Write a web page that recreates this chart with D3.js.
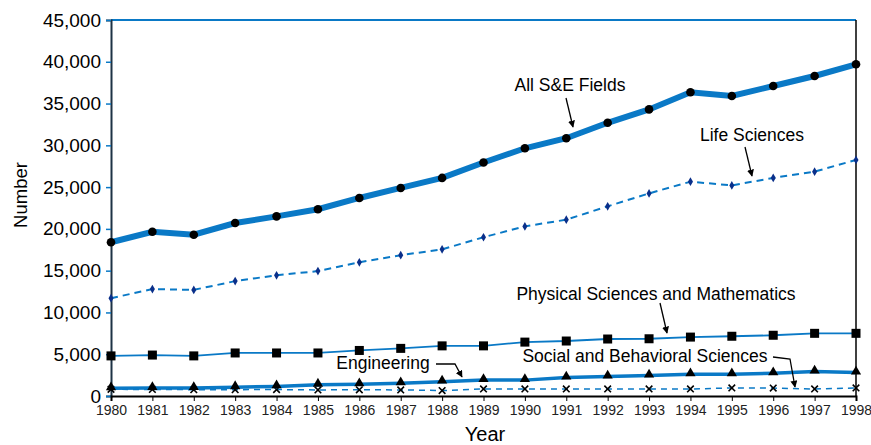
<!DOCTYPE html>
<html>
<head>
<meta charset="utf-8">
<script src="https://cdn.jsdelivr.net/npm/d3@7"></script>
<style>
  body { margin: 0; background: #fff; }
  text { font-family: "Liberation Sans", Arial, sans-serif; }
  .yr text { font-family: "Liberation Sans Narrow", "Arial Narrow", "Liberation Sans", sans-serif; }
</style>
</head>
<body>
<div id="chart-area"></div>
<script>

// Data
var years = d3.range(1980, 1999);
var allSE    = [18400, 19650, 19300, 20700, 21500, 22350, 23700, 24900, 26100, 27950, 29650, 30850, 32700, 34300, 36350, 35900, 37100, 38300, 39700];
var lifeSci  = [11700, 12800, 12700, 13750, 14450, 14950, 16000, 16850, 17550, 19000, 20300, 21100, 22700, 24250, 25650, 25200, 26100, 26850, 28250];
var physMath = [4800, 4900, 4800, 5150, 5150, 5150, 5450, 5700, 6000, 6000, 6450, 6580, 6820, 6850, 7050, 7150, 7270, 7500, 7500];
var engin    = [920, 950, 950, 1050, 1150, 1350, 1400, 1520, 1720, 1900, 1900, 2200, 2320, 2450, 2600, 2600, 2720, 2920, 2800];
var socBeh   = [800, 780, 760, 760, 770, 730, 740, 730, 650, 840, 840, 840, 840, 840, 840, 960, 950, 840, 960];
var yTicks = d3.range(0, 45001, 5000);

var blue = "#0a79c6";

var width = 871, height = 445;
var svg = d3.select("#chart-area").append("svg")
  .attr("width", width)
  .attr("height", height);

var x = d3.scaleLinear().domain([1980, 1998]).range([111, 856]);
var y = d3.scaleLinear().domain([0, 45000]).range([396, 20]);

// top border (blue) and right border (black)
svg.append("line")
  .attr("x1", x(1980)).attr("x2", x(1998))
  .attr("y1", y(45000)).attr("y2", y(45000))
  .attr("stroke", blue).attr("stroke-width", 2);
svg.append("line")
  .attr("x1", x(1998)).attr("x2", x(1998))
  .attr("y1", y(45000)).attr("y2", y(0))
  .attr("stroke", "#000").attr("stroke-width", 1.5);

// y axis
var yAxis = d3.axisLeft(y).tickValues(yTicks).tickSize(5).tickPadding(5)
  .tickFormat(d3.format(","));
var gy = svg.append("g").attr("transform", "translate(" + x(1980) + ",0)").call(yAxis);
gy.select(".domain").attr("stroke", "#1d3245").attr("stroke-width", 2);
gy.selectAll(".tick line").attr("stroke", blue).attr("stroke-width", 1.5);
gy.selectAll(".tick text").attr("font-size", 19).attr("fill", "#000")
  .style("font-family", "'Liberation Sans', Arial, sans-serif");

// x axis
var xAxis = d3.axisBottom(x).tickValues(years).tickSize(5).tickPadding(4)
  .tickFormat(d3.format("d"));
var gx = svg.append("g").attr("class", "yr").attr("transform", "translate(0," + y(0) + ")").call(xAxis);
gx.select(".domain").attr("stroke", "#000").attr("stroke-width", 2);
gx.selectAll(".tick line").attr("stroke", "#000");
gx.selectAll(".tick text").attr("font-size", 14).attr("fill", "#222");

// axis titles
svg.append("text").attr("x", 485).attr("y", 441).attr("text-anchor", "middle")
  .attr("font-size", 20).text("Year");
svg.append("text").attr("transform", "translate(27,195) rotate(-90)")
  .attr("text-anchor", "middle").attr("font-size", 18.5).text("Number");

function series(vals) {
  return vals.map(function(v, i) { return {year: years[i], value: v}; });
}
var line = d3.line().x(function(d) { return x(d.year); }).y(function(d) { return y(d.value); });

// Social and Behavioral
svg.append("path").datum(series(socBeh)).attr("d", line)
  .attr("fill", "none").attr("stroke", blue).attr("stroke-width", 1.5)
  .attr("stroke-dasharray", "6,5");
svg.selectAll(".xmark").data(series(socBeh)).enter().append("path")
  .attr("class", "xmark")
  .attr("d", d3.symbol().type(d3.symbolX).size(30))
  .attr("transform", function(d) { return "translate(" + x(d.year) + "," + y(d.value) + ")"; })
  .attr("stroke", "#000").attr("stroke-width", 1.6).attr("fill", "none");

// Engineering
svg.append("path").datum(series(engin)).attr("d", line)
  .attr("fill", "none").attr("stroke", blue).attr("stroke-width", 3.5);
svg.selectAll(".tri").data(series(engin)).enter().append("path")
  .attr("class", "tri")
  .attr("d", d3.symbol().type(d3.symbolTriangle).size(45))
  .attr("transform", function(d) { return "translate(" + x(d.year) + "," + (y(d.value) - 1) + ")"; })
  .attr("fill", "#000");

// Physical Sciences and Mathematics
svg.append("path").datum(series(physMath)).attr("d", line)
  .attr("fill", "none").attr("stroke", blue).attr("stroke-width", 1.8);
svg.selectAll(".sq").data(series(physMath)).enter().append("rect")
  .attr("class", "sq")
  .attr("x", function(d) { return x(d.year) - 4.5; })
  .attr("y", function(d) { return y(d.value) - 4.5; })
  .attr("width", 9).attr("height", 9).attr("fill", "#000");

// Life Sciences
svg.append("path").datum(series(lifeSci)).attr("d", line)
  .attr("fill", "none").attr("stroke", blue).attr("stroke-width", 2)
  .attr("stroke-dasharray", "7,5");
svg.selectAll(".dia").data(series(lifeSci)).enter().append("path")
  .attr("class", "dia")
  .attr("d", d3.symbol().type(d3.symbolDiamond).size(22))
  .attr("transform", function(d) { return "translate(" + x(d.year) + "," + y(d.value) + ")"; })
  .attr("fill", "#0a2f8a");

// All S&E Fields
svg.append("path").datum(series(allSE)).attr("d", line)
  .attr("fill", "none").attr("stroke", blue).attr("stroke-width", 6);
svg.selectAll(".dot").data(series(allSE)).enter().append("circle")
  .attr("class", "dot")
  .attr("cx", function(d) { return x(d.year); })
  .attr("cy", function(d) { return y(d.value); })
  .attr("r", 4.3).attr("fill", "#000");

// annotations
svg.append("defs").append("marker")
  .attr("id", "arr").attr("viewBox", "0 0 10 10").attr("refX", 9).attr("refY", 5)
  .attr("markerWidth", 7).attr("markerHeight", 7).attr("orient", "auto-start-reverse")
  .attr("markerUnits", "userSpaceOnUse")
  .append("path").attr("d", "M0,0 L10,5 L0,10 Z").attr("fill", "#000");

var notes = [
  {text: "All S&E Fields", tx: 570, ty: 91, path: "M566,98 L573,127"},
  {text: "Life Sciences", tx: 752, ty: 141, path: "M745,147 L752,176"},
  {text: "Physical Sciences and Mathematics", tx: 656, ty: 300, path: "M660,303 L667,333"},
  {text: "Engineering", tx: 383, ty: 369, path: "M436,364 L455,364 L462,377"},
  {text: "Social and Behavioral Sciences", tx: 645, ty: 362, path: "M773,357 L790,359 L795,387"}
];
notes.forEach(function(n) {
  svg.append("text").attr("x", n.tx).attr("y", n.ty).attr("text-anchor", "middle")
    .attr("font-size", 17.5).text(n.text);
  svg.append("path").attr("d", n.path).attr("fill", "none")
    .attr("stroke", "#000").attr("stroke-width", 1.3)
    .attr("marker-end", "url(#arr)");
});

</script>
</body>
</html>
